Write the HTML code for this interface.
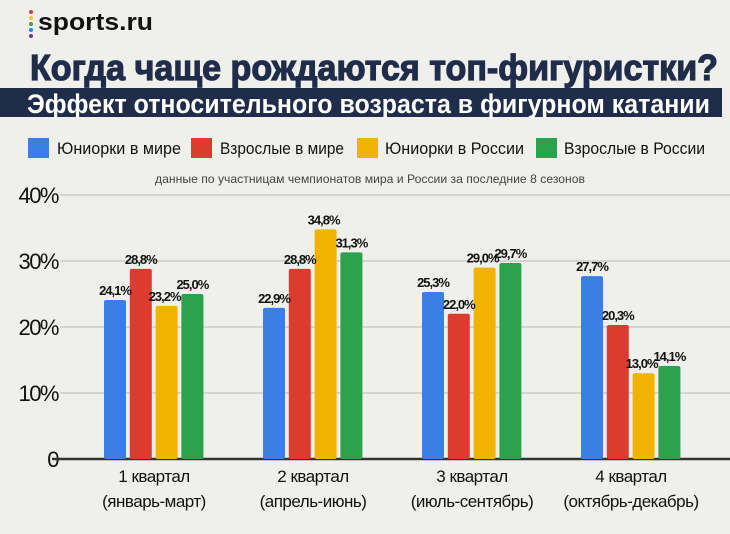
<!DOCTYPE html>
<html><head><meta charset="utf-8"><style>
html,body{margin:0;padding:0;background:#efefec;}
svg{display:block;font-family:"Liberation Sans","DejaVu Sans",sans-serif;}
</style></head><body>
<svg id="chart" width="730" height="534" viewBox="0 0 730 534" xmlns="http://www.w3.org/2000/svg">
<rect width="730" height="534" fill="#efefec"/>
<g>
<circle cx="31" cy="12" r="2" fill="#e53935"/><circle cx="31" cy="18" r="2" fill="#fbc02d"/><circle cx="31" cy="24" r="2" fill="#43a047"/><circle cx="31" cy="30" r="2" fill="#1e88e5"/><circle cx="31" cy="36" r="2" fill="#8e24aa"/>
<text x="38" y="30" font-size="24" font-weight="bold" fill="#111" textLength="115" lengthAdjust="spacingAndGlyphs">sports.ru</text>
</g>
<text x="30" y="80" font-size="36" font-weight="bold" fill="#1f2d4a" stroke="#1f2d4a" stroke-width="1.2" textLength="688" lengthAdjust="spacingAndGlyphs">Когда чаще рождаются топ-фигуристки?</text>
<rect x="0" y="88" width="722" height="29" fill="#1f2d4a"/>
<text x="27" y="113" font-size="27" font-weight="bold" fill="#fff" textLength="683" lengthAdjust="spacingAndGlyphs">Эффект относительного возраста в фигурном катании</text>
<g id="legend"></g>
<text x="370" y="183" font-size="12" fill="#444" text-anchor="middle" textLength="430" lengthAdjust="spacingAndGlyphs">данные по участницам чемпионатов мира и России за последние 8 сезонов</text>
<g id="grid"></g><g id="bars"></g><g id="labels"></g>
</svg>
<script>
const categories=["1 квартал","2 квартал","3 квартал","4 квартал"];
const subcats=["(январь-март)","(апрель-июнь)","(июль-сентябрь)","(октябрь-декабрь)"];
const seriesNames=["Юниорки в мире","Взрослые в мире","Юниорки в России","Взрослые в России"];
const juniorsWorld=[24.1,22.9,25.3,27.7];
const adultsWorld=[28.8,28.8,22.0,20.3];
const juniorsRussia=[23.2,34.8,29.0,13.0];
const adultsRussia=[25.0,31.3,29.7,14.1];
const ticks=[0,10,20,30,40];
const tickLabels=["0","10%","20%","30%","40%"];
const series=[juniorsWorld,adultsWorld,juniorsRussia,adultsRussia];
const colors=["#3b7ee4","#de3b2f","#f0b400","#2da24c"];
const NS="http://www.w3.org/2000/svg";
const y0=459, yTop=195;
function yScale(v){return y0-(y0-yTop)*v/40;}
function xScale(ci,si){return 104+ci*159+si*25.8;}
const bw=22;
function mk(tag,attrs,parent,txt){const e=document.createElementNS(NS,tag);for(const k in attrs)e.setAttribute(k,attrs[k]);if(txt!==undefined)e.textContent=txt;parent.appendChild(e);return e;}
const grid=document.getElementById('grid'),bars=document.getElementById('bars'),labels=document.getElementById('labels'),legend=document.getElementById('legend');
const swX=[28,191,357,536],txX=[57,220,385,564],txW=[124,124,139,141];
seriesNames.forEach((n,i)=>{
 const r=mk('rect',{x:swX[i],y:138,width:21,height:20,fill:colors[i]},legend);
 
 
 const t=mk('text',{x:txX[i],y:154,'font-size':17,fill:'#111',textLength:txW[i],lengthAdjust:'spacingAndGlyphs'},legend,n);
 
 
});
ticks.forEach((v,i)=>{
 const y=yScale(v);
 if(v>0){const l=mk('line',{x1:60,x2:730,y1:y,y2:y,stroke:'#c4c4c4','stroke-width':1.3},grid);
 
 }
 const t=mk('text',{x:58,y:y+8,'font-size':22,fill:'#111','text-anchor':'end','letter-spacing':'-1.5'},grid,tickLabels[i]);
 
 
});
const ax=mk('line',{x1:52,x2:730,y1:y0,y2:y0,stroke:'#333','stroke-width':2.5},grid);


categories.forEach((c,ci)=>{
 series.forEach((s,si)=>{
  const x=xScale(ci,si),y=yScale(s[ci]);
  const b=mk('rect',{x:x,y:y,width:bw,height:y0-y,rx:2,fill:colors[si]},bars);
  
  
  const t=mk('text',{x:x+bw/2+(si===2?-2:0),y:y-5,'font-size':13,'font-weight':'bold',fill:'#111','text-anchor':'middle','letter-spacing':'-1'},labels,s[ci].toFixed(1).replace('.',',')+'%');
  
  
 });
 const cx=xScale(ci,0)+50;
 const t1=mk('text',{x:cx,y:482,'font-size':17,fill:'#111','text-anchor':'middle','letter-spacing':'-0.5'},labels,c);
 
 
 const t2=mk('text',{x:cx,y:507,'font-size':17,fill:'#111','text-anchor':'middle','letter-spacing':'-0.5'},labels,subcats[ci]);
 
 
});
</script>
</body></html>
